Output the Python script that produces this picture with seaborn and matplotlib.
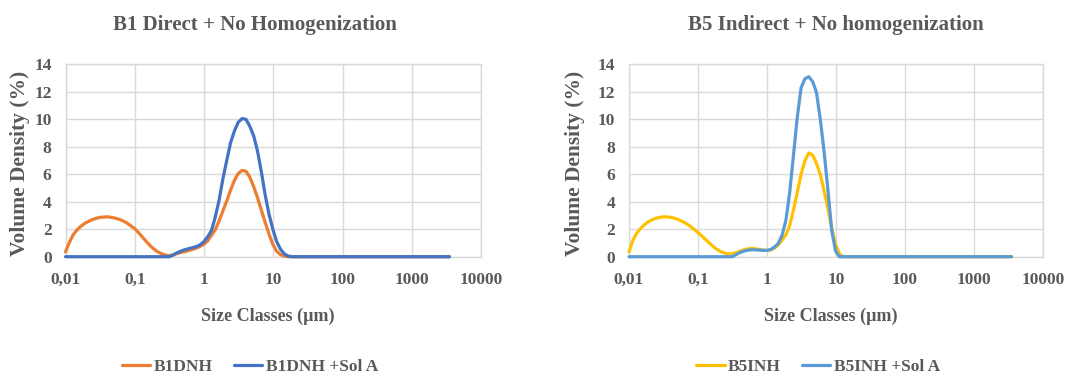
import matplotlib
matplotlib.use("Agg")
import matplotlib.pyplot as plt
from matplotlib.lines import Line2D
from matplotlib.ticker import FixedLocator, FixedFormatter, NullLocator
import seaborn as sns
import pandas as pd

# Laser diffraction size classes (µm)
size_classes = [
    0.01, 0.0114, 0.0129, 0.0147, 0.0167, 0.0189, 0.0215, 0.0244, 0.0278, 0.0315,
    0.0358, 0.0407, 0.0463, 0.0526, 0.0597, 0.0679, 0.0771, 0.0876, 0.0995, 0.113,
    0.128, 0.146, 0.166, 0.188, 0.214, 0.243, 0.276, 0.314, 0.357, 0.405,
    0.46, 0.523, 0.594, 0.675, 0.767, 0.872, 0.991, 1.13, 1.28, 1.45,
    1.65, 1.88, 2.13, 2.42, 2.75, 3.12, 3.55, 4.03, 4.58, 5.21,
    5.92, 6.72, 7.64, 8.68, 9.86, 11.2, 12.7, 14.5, 16.4, 18.7,
    21.2, 24.1, 27.4, 31.1, 35.3, 40.1, 45.6, 51.8, 58.9, 66.9,
    76, 86.4, 98.1, 111, 127, 144, 163, 186, 211, 240,
    272, 310, 352, 400, 454, 516, 586, 666, 756, 859,
    976, 1110, 1260, 1430, 1630, 1850, 2100, 2390, 2710, 3080,
    3500,
]

# Volume density (%) per size class
b1dnh = [
    0.35, 1.05, 1.60, 1.95, 2.22, 2.42, 2.57, 2.70, 2.80, 2.86,
    2.89, 2.90, 2.86, 2.80, 2.72, 2.60, 2.45, 2.25, 2.05, 1.76,
    1.45, 1.12, 0.82, 0.56, 0.36, 0.22, 0.12, 0.07, 0.12, 0.22,
    0.30, 0.37, 0.44, 0.52, 0.62, 0.74, 0.90, 1.15, 1.55, 1.95,
    2.60, 3.35, 4.05, 4.85, 5.55, 6.05, 6.28, 6.22, 5.80, 5.10,
    4.30, 3.40, 2.50, 1.65, 0.90, 0.40, 0.15, 0.04, 0.00, 0.00,
    0, 0, 0, 0, 0, 0, 0, 0, 0, 0,
    0, 0, 0, 0, 0, 0, 0, 0, 0, 0,
    0, 0, 0, 0, 0, 0, 0, 0, 0, 0,
    0, 0, 0, 0, 0, 0, 0, 0, 0, 0,
    0,
]
b1dnh_sol_a = [
    0, 0, 0, 0, 0, 0, 0, 0, 0, 0,
    0, 0, 0, 0, 0, 0, 0, 0, 0, 0,
    0, 0, 0, 0, 0, 0, 0, 0, 0.12, 0.28,
    0.40, 0.50, 0.58, 0.65, 0.73, 0.85, 1.08, 1.45, 1.90, 2.85,
    4.10, 5.70, 7.00, 8.30, 9.15, 9.78, 10.05, 10.00, 9.50, 8.80,
    7.70, 6.20, 4.50, 3.10, 2.00, 1.10, 0.55, 0.20, 0.05, 0.00,
    0, 0, 0, 0, 0, 0, 0, 0, 0, 0,
    0, 0, 0, 0, 0, 0, 0, 0, 0, 0,
    0, 0, 0, 0, 0, 0, 0, 0, 0, 0,
    0, 0, 0, 0, 0, 0, 0, 0, 0, 0,
    0,
]
b5inh = [
    0.35, 1.20, 1.70, 2.05, 2.33, 2.53, 2.68, 2.79, 2.86, 2.90,
    2.90, 2.86, 2.79, 2.69, 2.56, 2.40, 2.22, 2.00, 1.77, 1.52,
    1.26, 0.99, 0.74, 0.53, 0.37, 0.26, 0.21, 0.22, 0.30, 0.40,
    0.50, 0.57, 0.60, 0.58, 0.53, 0.48, 0.46, 0.50, 0.62, 0.85,
    1.20, 1.60, 2.25, 3.40, 4.70, 6.00, 7.00, 7.55, 7.40, 6.80,
    6.00, 4.80, 3.50, 2.05, 0.90, 0.20, 0.00, 0.00, 0.00, 0.00,
    0, 0, 0, 0, 0, 0, 0, 0, 0, 0,
    0, 0, 0, 0, 0, 0, 0, 0, 0, 0,
    0, 0, 0, 0, 0, 0, 0, 0, 0, 0,
    0, 0, 0, 0, 0, 0, 0, 0, 0, 0,
    0,
]
b5inh_sol_a = [
    0, 0, 0, 0, 0, 0, 0, 0, 0, 0,
    0, 0, 0, 0, 0, 0, 0, 0, 0, 0,
    0, 0, 0, 0, 0, 0, 0, 0, 0.15, 0.30,
    0.40, 0.47, 0.50, 0.50, 0.48, 0.46, 0.46, 0.52, 0.70, 0.95,
    1.55, 2.65, 4.65, 7.40, 10.17, 12.30, 12.95, 13.10, 12.75, 11.95,
    10.00, 7.65, 4.85, 1.90, 0.40, 0.00, 0.00, 0.00, 0.00, 0.00,
    0, 0, 0, 0, 0, 0, 0, 0, 0, 0,
    0, 0, 0, 0, 0, 0, 0, 0, 0, 0,
    0, 0, 0, 0, 0, 0, 0, 0, 0, 0,
    0, 0, 0, 0, 0, 0, 0, 0, 0, 0,
    0,
]

x_tick_values = [0.01, 0.1, 1, 10, 100, 1000, 10000]
x_tick_labels = ["0,01", "0,1", "1", "10", "100", "1000", "10000"]
y_tick_values = [0, 2, 4, 6, 8, 10, 12, 14]

panels = [
    {
        "title": "B1 Direct + No Homogenization",
        "series": {"B1DNH": b1dnh, "B1DNH +Sol A": b1dnh_sol_a},
        "colors": ["#ED7D31", "#4472C4"],
    },
    {
        "title": "B5 Indirect + No homogenization",
        "series": {"B5INH": b5inh, "B5INH +Sol A": b5inh_sol_a},
        "colors": ["#FFC000", "#5B9BD5"],
    },
]

sns.set_theme(style="white")
plt.rcParams["font.family"] = ["Liberation Serif", "DejaVu Serif"]
plt.rcParams["font.weight"] = "bold"

TEXT = "#595959"
GRID = "#D9D9D9"
W, H = 1065, 374

fig = plt.figure(figsize=(W / 100, H / 100), dpi=100)
fig.patch.set_facecolor("white")

# pixel geometry of each panel: (x of 0.01, x of 10000, title x, legend x, ylabel x)
layout = [
    (65.5, 481.0, 255.0, 250.0, 20.0),
    (629.0, 1043.0, 836.0, 818.0, 575.0),
]
y_top, y_bot = 64.3, 256.7

for panel, (x0, x1, tx, lx, yx) in zip(panels, layout):
    ax = fig.add_axes([x0 / W, 1 - y_bot / H, (x1 - x0) / W, (y_bot - y_top) / H])
    names = list(panel["series"].keys())
    df = pd.concat(
        [pd.DataFrame({"size": size_classes, "density": vals, "series": name})
         for name, vals in panel["series"].items()],
        ignore_index=True,
    )
    sns.lineplot(
        data=df, x="size", y="density", hue="series", hue_order=names,
        palette=panel["colors"], linewidth=2.3, legend=False, ax=ax,
        estimator=None, sort=False,
    )
    for line in ax.get_lines():
        line.set_clip_on(False)
        line.set_solid_capstyle("round")
        line.set_solid_joinstyle("round")
        line.set_zorder(3)

    ax.set_xscale("log")
    ax.set_xlim(0.01, 10000)
    ax.set_ylim(0, 14)
    ax.xaxis.set_major_locator(FixedLocator(x_tick_values))
    ax.xaxis.set_major_formatter(FixedFormatter(x_tick_labels))
    ax.xaxis.set_minor_locator(NullLocator())
    ax.yaxis.set_major_locator(FixedLocator(y_tick_values))
    ax.grid(True, color=GRID, linewidth=1.0)
    ax.set_axisbelow(True)
    for sp in ax.spines.values():
        sp.set_color(GRID)
        sp.set_linewidth(1.0)
    ax.tick_params(axis="both", length=0, labelsize=12.5, labelcolor=TEXT)
    ax.tick_params(axis="x", pad=11)
    ax.tick_params(axis="y", pad=10)
    ax.set_xlabel("")
    ax.set_ylabel("")

    fig.text(tx / W, 1 - 25 / H, panel["title"], ha="center", va="center",
             fontsize=15, fontweight="bold", color=TEXT)
    fig.text((x0 + x1) / 2 / W - 5 / W, 1 - 316 / H, "Size Classes (µm)",
             ha="center", va="center", fontsize=13, fontweight="bold", color=TEXT)
    fig.text(yx / W, 1 - 163 / H, "Volume Density (%)", rotation=90,
             ha="center", va="center", fontsize=15.5, fontweight="bold", color=TEXT)

    handles = [Line2D([], [], color=c, linewidth=2.3) for c in panel["colors"]]
    fig.legend(handles, names, loc="center", bbox_to_anchor=(lx / W, 1 - 367 / H),
               ncol=2, frameon=False, fontsize=12.5, handlelength=1.65,
               handletextpad=0.2, columnspacing=1.2, labelcolor=TEXT)

fig.savefig("out.png", dpi=100, facecolor="white")
